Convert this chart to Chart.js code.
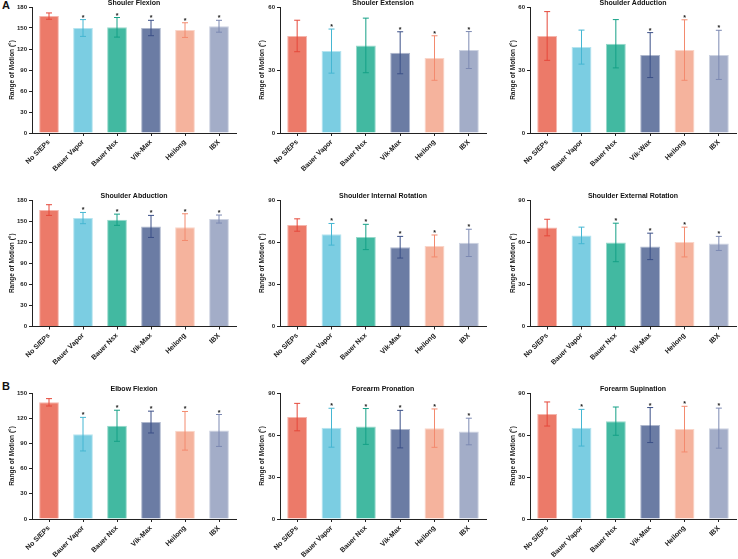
<!DOCTYPE html>
<html>
<head>
<meta charset="utf-8">
<script src="https://cdn.jsdelivr.net/npm/chart.js@4"></script>
<style>
  body { margin: 0; width: 738px; height: 559px; background: #fff; position: relative; overflow: hidden; font-family: "Liberation Sans", Arial, sans-serif; }
  canvas { position: absolute; }
  .tag { position: absolute; font-weight: bold; font-size: 11px; color: #111; }
</style>
</head>
<body>
<div class="tag" style="left:2px;top:-1px">A</div>
<div class="tag" style="left:2px;top:380px">B</div>
<script>
// groups (x categories)
const groups = ['No S/EPs', 'Bauer Vapor', 'Bauer Nsx', 'Vik-Max', 'Heilong', 'IBX'];
const groupsAdd = ['No S/EPs', 'Bauer Vapor', 'Bauer Nsx', 'Vik-Wax', 'Heilong', 'IBX'];

// mean, SD, star (1 = marked *) for each panel
const flexMean = [167, 150, 151, 150, 147, 152.5];
const flexSd = [4.5, 12, 14, 11, 10.5, 8.5];
const flexStar = [0, 1, 1, 1, 1, 1];

const extMean = [46.2, 39, 41.7, 38.2, 35.7, 39.5];
const extSd = [7.5, 10.5, 13, 10, 10.6, 8.8];
const extStar = [0, 1, 0, 1, 1, 1];

const addMean = [46.2, 40.9, 42.5, 37.1, 39.5, 37.2];
const addSd = [11.6, 8.1, 11.5, 10.7, 14.4, 11.7];
const addStar = [0, 0, 0, 1, 1, 1];

const abdMean = [165.7, 154.3, 151.9, 142.4, 141.4, 152.9];
const abdSd = [7.6, 8, 8, 15.7, 19, 5.7];
const abdStar = [0, 1, 1, 1, 1, 1];

const intMean = [72.2, 65.6, 63.7, 56.4, 57.3, 59.5];
const intSd = [4.4, 7.7, 9, 7.7, 7.8, 9.7];
const intStar = [0, 1, 1, 1, 1, 1];

const extRotMean = [70.4, 64.8, 59.8, 57, 60.1, 59.1];
const extRotSd = [5.9, 5.9, 13.7, 9.4, 10.6, 5];
const extRotStar = [0, 0, 1, 1, 1, 1];

const elbowMean = [138.9, 101, 111, 115.4, 105, 105.4];
const elbowSd = [4.4, 20, 18.5, 13, 23, 19];
const elbowStar = [0, 1, 1, 1, 1, 1];

const pronMean = [72.8, 65.2, 66.1, 64.2, 64.9, 62.5];
const pronSd = [9.8, 13.9, 12.8, 13.4, 13.7, 9.5];
const pronStar = [0, 1, 1, 1, 1, 1];

const supMean = [75, 65.2, 69.9, 67.1, 64.2, 64.9];
const supSd = [8.6, 13.1, 10.1, 12.5, 16.3, 14.3];
const supStar = [0, 1, 0, 1, 1, 1];

const barColors = ['#EC7A69', '#7BCDE2', '#42B9A1', '#6B7CA4', '#F5B39D', '#A3ADC8'];
const errColors = ['#E5483A', '#45B6D2', '#14A086', '#3B4F87', '#F38A6E', '#7C89B2'];

const panels = [
  { title: 'Shouler Flexion', labels: groups, mean: flexMean, sd: flexSd, star: flexStar, max: 180 },
  { title: 'Shouler Extension', labels: groups, mean: extMean, sd: extSd, star: extStar, max: 60 },
  { title: 'Shoulder Adduction', labels: groupsAdd, mean: addMean, sd: addSd, star: addStar, max: 60 },
  { title: 'Shoulder Abduction', labels: groups, mean: abdMean, sd: abdSd, star: abdStar, max: 180 },
  { title: 'Shoulder Internal Rotation', labels: groups, mean: intMean, sd: intSd, star: intStar, max: 90 },
  { title: 'Shoulder External Rotation', labels: groups, mean: extRotMean, sd: extRotSd, star: extRotStar, max: 90 },
  { title: 'Elbow Flexion', labels: groups, mean: elbowMean, sd: elbowSd, star: elbowStar, max: 150 },
  { title: 'Forearm Pronation', labels: groups, mean: pronMean, sd: pronSd, star: pronStar, max: 90 },
  { title: 'Forearm Supination', labels: groups, mean: supMean, sd: supSd, star: supStar, max: 90 },
];

// grid placement
const cols = [
  { left: 0, width: 246, yw: 32, pr: 10 },
  { left: 250, width: 242, yw: 30, pr: 6 },
  { left: 501, width: 237, yw: 29, pr: 2 },
];
const rows = [
  { top: 0, height: 180, pt: 7, xh: 47 },
  { top: 180, height: 190, pt: 20, xh: 43.5 },
  { top: 370, height: 189, pt: 23, xh: 40 },
];

Chart.defaults.font.family = '"Liberation Sans", Arial, sans-serif';
Chart.defaults.color = '#1a1a1a';

const lighten = (hex) => {
  const n = parseInt(hex.slice(1), 16);
  const mix = (c) => Math.round(c + (255 - c) * 0.45);
  return `rgb(${mix(n >> 16)},${mix((n >> 8) & 255)},${mix(n & 255)})`;
};

// error bars, stars and panel title
const errPlugin = {
  id: 'errbars',
  afterDatasetsDraw(chart, args, opts) {
    const { ctx, chartArea, scales: { y } } = chart;
    const meta = chart.getDatasetMeta(0);
    ctx.save();
    opts.mean.forEach((m, i) => {
      const cx = meta.data[i].x;
      const hi = y.getPixelForValue(m + opts.sd[i]);
      const lo = y.getPixelForValue(m - opts.sd[i]);
      ctx.strokeStyle = errColors[i];
      ctx.lineWidth = 1;
      ctx.beginPath();
      ctx.moveTo(cx, lo); ctx.lineTo(cx, hi);
      ctx.moveTo(cx - 3, hi); ctx.lineTo(cx + 3, hi);
      ctx.moveTo(cx - 3, lo); ctx.lineTo(cx + 3, lo);
      ctx.stroke();
      if (opts.star[i]) {
        ctx.fillStyle = '#222';
        ctx.font = 'bold 7px "Liberation Sans", Arial, sans-serif';
        ctx.textAlign = 'center';
        ctx.textBaseline = 'alphabetic';
        ctx.fillText('*', cx, hi);
      }
    });
    ctx.fillStyle = '#111';
    ctx.font = 'bold 7px "Liberation Sans", Arial, sans-serif';
    ctx.textAlign = 'center';
    ctx.textBaseline = 'middle';
    ctx.fillText(opts.title, (chartArea.left + chartArea.right) / 2, chartArea.top - 4);
    ctx.restore();
  }
};

panels.forEach((p, k) => {
  const c = cols[k % 3], r = rows[Math.floor(k / 3)];
  const cv = document.createElement('canvas');
  cv.width = c.width;
  cv.height = r.height;
  cv.style.left = c.left + 'px';
  cv.style.top = r.top + 'px';
  cv.style.width = c.width + 'px';
  cv.style.height = r.height + 'px';
  document.body.appendChild(cv);

  new Chart(cv, {
    type: 'bar',
    data: {
      labels: p.labels,
      datasets: [{
        data: p.mean,
        backgroundColor: barColors,
        borderColor: barColors.map(lighten),
        borderWidth: 1,
        barPercentage: 0.58,
        categoryPercentage: 1,
      }]
    },
    options: {
      responsive: false,
      animation: false,
      devicePixelRatio: 1,
      layout: { padding: { top: r.pt, right: c.pr, left: 0, bottom: 0 } },
      plugins: {
        legend: { display: false },
        tooltip: { enabled: false },
        errbars: { mean: p.mean, sd: p.sd, star: p.star, title: p.title },
      },
      scales: {
        x: {
          afterFit: (s) => { s.height = r.xh; },
          grid: { display: true, drawOnChartArea: false, offset: false, tickLength: 3, color: '#222', tickWidth: 1 },
          border: { display: true, color: '#222', width: 1 },
          ticks: { minRotation: 45, maxRotation: 45, padding: 2, autoSkip: false, font: { size: 7, weight: 'bold' } },
        },
        y: {
          min: 0, max: p.max,
          afterFit: (s) => { s.width = c.yw; },
          grid: { display: true, drawOnChartArea: false, tickLength: 3, color: '#222', tickWidth: 1 },
          border: { display: true, color: '#222', width: 1 },
          ticks: { stepSize: 30, padding: 2, font: { size: 6, weight: 'bold' } },
          title: { display: true, text: 'Range of Motion (°)', padding: { top: 8, bottom: 0 }, font: { size: 6.5, weight: 'bold' } },
        }
      }
    },
    plugins: [errPlugin]
  });
});
</script>
</body>
</html>
